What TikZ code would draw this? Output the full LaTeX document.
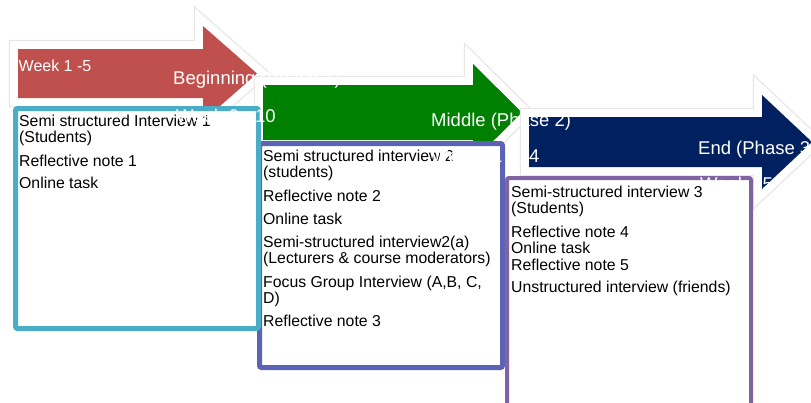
\documentclass[tikz,border=0pt]{standalone}
\usepackage{fontspec}
\setmainfont{Liberation Sans}

\definecolor{phaseRed}{RGB}{192,80,77}
\definecolor{phaseGreen}{RGB}{0,128,0}
\definecolor{phaseBlue}{RGB}{0,32,96}
\definecolor{boxTeal}{RGB}{75,172,198}
\definecolor{boxSlate}{RGB}{92,98,180}
\definecolor{boxPurple}{RGB}{128,100,162}
\definecolor{haloGray}{RGB}{230,230,230}

\tikzset{
  halo/.style={draw=haloGray, line width=18.5pt, line join=miter},
  rim/.style={draw=white, line width=16pt, line join=miter},
  itemtext/.style={anchor=base west, inner sep=0pt, text=black,
    font=\fontsize{15.8}{16}\selectfont},
  weektext/.style={anchor=base west, inner sep=0pt, text=white,
    font=\fontsize{16}{18}\selectfont},
  phasetext/.style={anchor=base west, inner sep=0pt, text=white,
    font=\fontsize{18.5}{20}\selectfont},
  listbox/.style={fill=white, rounded corners=2pt}
}

\begin{document}
\begin{tikzpicture}[x=1pt, y=-1pt]
\useasboundingbox (0,0) rectangle (811,402);

% ---- Phase 1 arrow
\path[halo] (18,49) -- (203,49) -- (203,26) -- (257,73.5) -- (203,121) -- (203,98) -- (18,98) -- cycle;
\path[rim]  (18,49) -- (203,49) -- (203,26) -- (257,73.5) -- (203,121) -- (203,98) -- (18,98) -- cycle;
\path[fill=phaseRed] (18,49) -- (203,49) -- (203,26) -- (257,73.5) -- (203,121) -- (203,98) -- (18,98) -- cycle;

% ---- Phase 2 arrow
\path[halo] (263,85) -- (473,85) -- (473,64) -- (522,112.5) -- (473,161) -- (473,140) -- (263,140) -- cycle;
\path[rim]  (263,85) -- (473,85) -- (473,64) -- (522,112.5) -- (473,161) -- (473,140) -- (263,140) -- cycle;
\path[fill=phaseGreen] (263,85) -- (473,85) -- (473,64) -- (522,112.5) -- (473,161) -- (473,140) -- (263,140) -- cycle;

% ---- Phase 3 arrow
\path[halo] (529,117) -- (762,117) -- (762,95) -- (812,142) -- (762,189) -- (762,167) -- (529,167) -- cycle;
\path[rim]  (529,117) -- (762,117) -- (762,95) -- (812,142) -- (762,189) -- (762,167) -- (529,167) -- cycle;
\path[fill=phaseBlue] (529,117) -- (762,117) -- (762,95) -- (812,142) -- (762,189) -- (762,167) -- (529,167) -- cycle;

% ---- Phase 2 activities
\draw[listbox, draw=boxSlate, line width=5pt] (259.5,143.5) rectangle (502.5,367.5);
\node[itemtext] (b2a) at (263,161)   {Semi structured interview 2};
\node[itemtext] (b2b) at (263,177)   {(students)};
\node[itemtext] (b2c) at (263,201)   {Reflective note 2};
\node[itemtext] (b2d) at (263,224)   {Online task};
\node[itemtext] (b2e) at (263,247.3) {Semi-structured interview2(a)};
\node[itemtext] (b2f) at (263,263.3) {(Lecturers \& course moderators)};
\node[itemtext] (b2g) at (263,287.3) {Focus Group Interview (A,B, C,};
\node[itemtext] (b2h) at (263,303.3) {D)};
\node[itemtext] (b2i) at (263,326)   {Reflective note 3};

% ---- Phase 1 activities
\draw[listbox, draw=boxTeal, line width=5pt] (15.5,108.5) rectangle (258.5,328.5);
\node[itemtext] (b1a) at (19,126.5) {Semi structured Interview 1};
\node[itemtext] (b1b) at (19,142.5) {(Students)};
\node[itemtext] (b1c) at (19,166)   {Reflective note 1};
\node[itemtext] (b1d) at (19,188.3) {Online task};

% ---- Phase 3 activities
\draw[listbox, draw=boxPurple, line width=4pt] (507,178) rectangle (751,410);
\node[itemtext] (b3a) at (511,197.7) {Semi-structured interview 3};
\node[itemtext] (b3b) at (511,213.7) {(Students)};
\node[itemtext] (b3c) at (511,237)   {Reflective note 4};
\node[itemtext] (b3d) at (511,253.3) {Online task};
\node[itemtext] (b3e) at (511,270)   {Reflective note 5};
\node[itemtext] (b3f) at (511,292.7) {Unstructured interview (friends)};

% ---- phase titles and week ranges, white, laid over everything
\node[weektext]  (wk1) at (18.5,71.7) {Week 1 -5};
\node[phasetext] (ph1) at (173,84)    {Beginning (Phase 1)};
\node[phasetext] (wk2) at (176,122.3) {Week 6 - 10};
\node[phasetext] (ph2) at (431,126)   {Middle (Phase 2)};
\node[phasetext] (wk3) at (431,162.3) {Week 11 - 14};
\node[phasetext] (ph3) at (698,154)   {End (Phase 3)};
\node[phasetext] (wk4) at (700,190)   {Week 15 - 20};
\end{tikzpicture}
\end{document}
